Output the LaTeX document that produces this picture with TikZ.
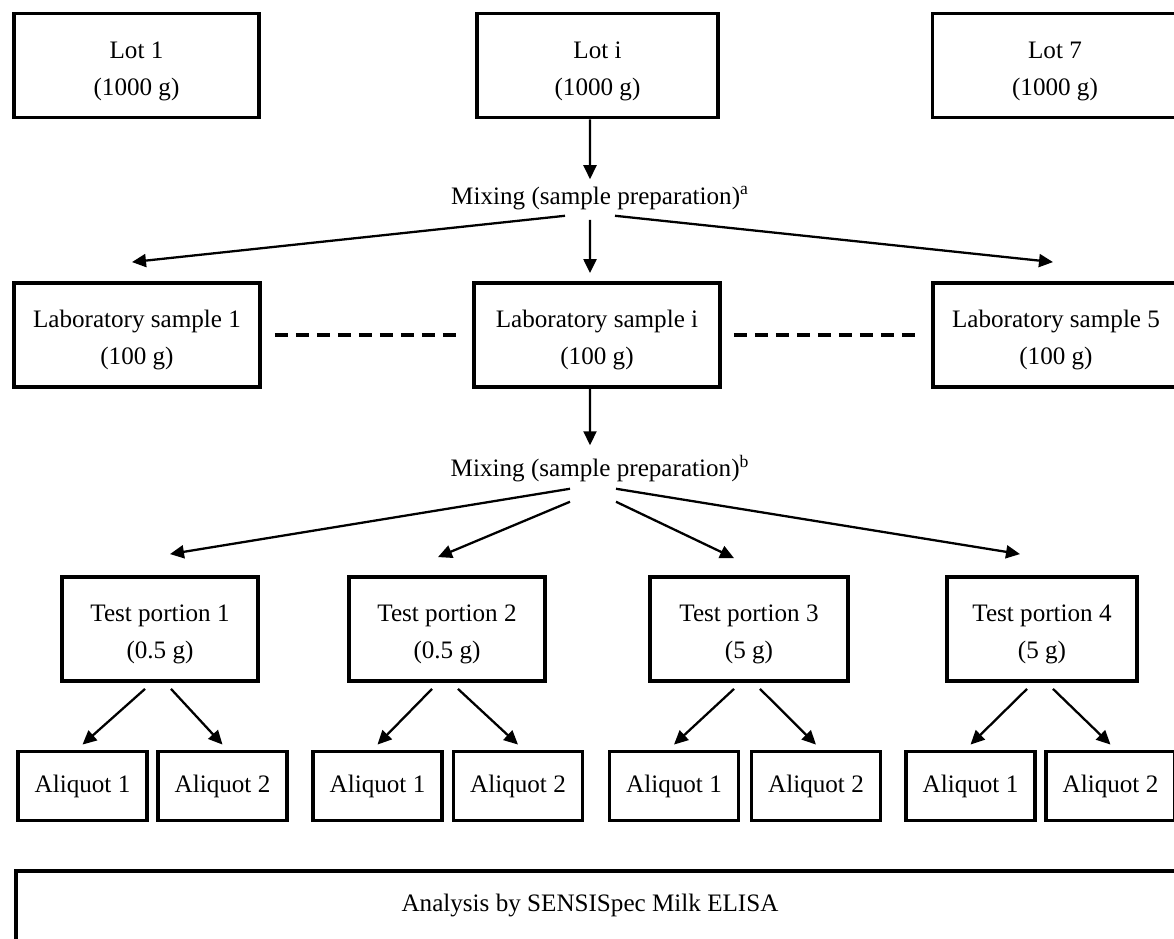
\documentclass[tikz,border=0pt]{standalone}
\usepackage{fontspec}
\setmainfont{Liberation Serif}
\usetikzlibrary{arrows.meta}
\newcommand{\twolines}[2]{\rule{0pt}{0.56cm}#1\\#2}

\begin{document}
\begin{tikzpicture}[x=0.02cm, y=-0.02cm,
                font=\fontsize{14.3}{21}\selectfont,
                box/.style={draw, line width=2.2pt, align=center, inner sep=0pt, minimum height=2.08cm},
                smallbox/.style={draw, line width=2.2pt, inner sep=0pt, minimum height=1.38cm, minimum width=2.58cm},
                mixtext/.style={inner sep=0pt},
                arr/.style={-{Triangle[length=2.8mm, width=2.6mm]}, line width=1.3pt},
                dashline/.style={line width=2.2pt, dash pattern=on 2.6mm off 1.6mm}]
                \useasboundingbox (0,0) rectangle (1174,939);
                \clip (0,0) rectangle (1174,939);
                % lots
                \node[box, minimum width=4.9cm] (lot1) at (136.5,65.5) {\twolines{Lot 1}{(1000 g)}};
                \node[box, minimum width=4.82cm] (loti) at (597.5,65.5) {\twolines{Lot i}{(1000 g)}};
                \node[box, minimum width=4.9cm] (lot7) at (1055,65.5) {\twolines{Lot 7}{(1000 g)}};
                \node[mixtext] (mixa) at (600,198) {Mixing (sample preparation)\textsuperscript{a}};
                % laboratory samples
                \node[box, minimum width=4.92cm] (lab1) at (137,335) {\twolines{Laboratory sample 1}{(100 g)}};
                \node[box, minimum width=4.92cm] (labi) at (597,335) {\twolines{Laboratory sample i}{(100 g)}};
                \node[box, minimum width=4.92cm] (lab5) at (1056,335) {\twolines{Laboratory sample 5}{(100 g)}};
                \node[mixtext] (mixb) at (600,469) {Mixing (sample preparation)\textsuperscript{b}};
                % test portions
                \node[box, minimum width=3.92cm] (tp1) at (160,629) {\twolines{Test portion 1}{(0.5 g)}};
                \node[box, minimum width=3.92cm] (tp2) at (447,629) {\twolines{Test portion 2}{(0.5 g)}};
                \node[box, minimum width=3.96cm] (tp3) at (749,629) {\twolines{Test portion 3}{(5 g)}};
                \node[box, minimum width=3.8cm] (tp4) at (1042,629) {\twolines{Test portion 4}{(5 g)}};
                \node (ana) at (590,905) {Analysis by SENSISpec Milk ELISA};
                \draw[line width=2.2pt] (16,960) |- (1200,871);
                \draw[arr] ([xshift=-0.15cm]loti.south) -- ([xshift=-0.2cm, yshift=0.14cm]mixa.north);
                \draw[arr] ([xshift=-0.7cm, yshift=-0.12cm]mixa.south) -- ([xshift=-0.1cm, yshift=0.38cm]lab1.north);
                \draw[arr] ([xshift=-0.2cm, yshift=-0.2cm]mixa.south) -- ([xshift=-0.14cm, yshift=0.16cm]labi.north);
                \draw[arr] ([xshift=0.3cm, yshift=-0.12cm]mixa.south) -- ([xshift=-0.06cm, yshift=0.38cm]lab5.north);
                \draw[dashline, shorten <=0.26cm, shorten >=0.32cm] (lab1.east) -- (labi.west);
                \draw[dashline, shorten <=0.24cm, shorten >=0.32cm] (labi.east) -- (lab5.west);
                \draw[arr] ([xshift=-0.14cm]labi.south) -- ([xshift=-0.2cm, yshift=0.2cm]mixb.north);
                \draw[arr] ([xshift=-0.6cm, yshift=-0.12cm]mixb.south) -- ([xshift=0.2cm, yshift=0.42cm]tp1.north);
                \draw[arr] ([xshift=-0.6cm, yshift=-0.38cm]mixb.south) -- ([xshift=-0.18cm, yshift=0.36cm]tp2.north);
                \draw[arr] ([xshift=0.32cm, yshift=-0.38cm]mixb.south) -- ([xshift=-0.3cm, yshift=0.34cm]tp3.north);
                \draw[arr] ([xshift=0.32cm, yshift=-0.12cm]mixb.south) -- ([xshift=-0.44cm, yshift=0.42cm]tp4.north);
                % aliquots
                \foreach \t/\xa/\xb in {1/82.5/222.5, 2/377.5/518, 3/674/816, 4/970.5/1110.5}{
                    \node[smallbox] (ali\t1) at (\xa,786) {Aliquot 1};
                    \node[smallbox] (ali\t2) at (\xb,786) {Aliquot 2};
                    \draw[arr] ([xshift=-0.3cm, yshift=-0.12cm]tp\t.south) -- ([yshift=0.1cm]ali\t1.north);
                    \draw[arr] ([xshift=0.22cm, yshift=-0.12cm]tp\t.south) -- ([yshift=0.1cm]ali\t2.north);
                }
            \end{tikzpicture}
\end{document}
